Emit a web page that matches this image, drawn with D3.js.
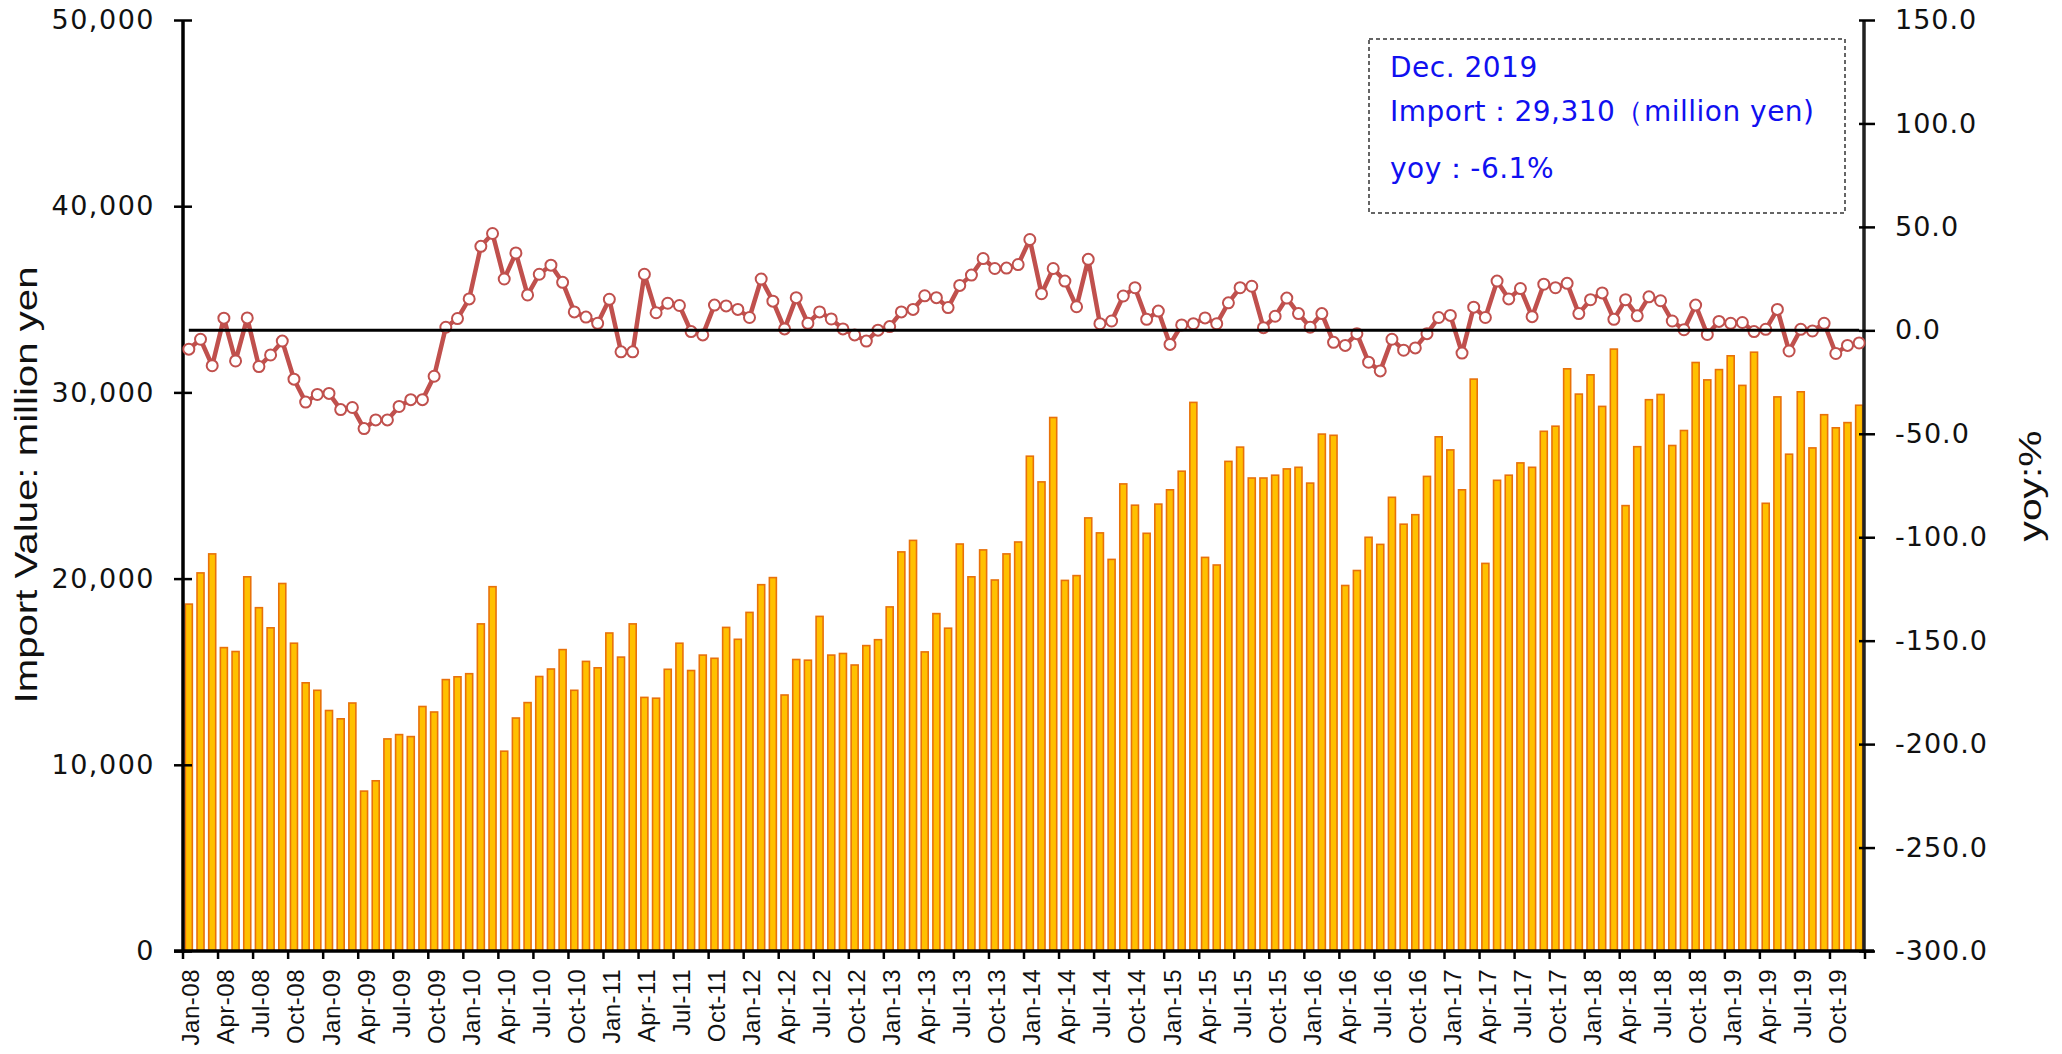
<!DOCTYPE html>
<html>
<head>
<meta charset="utf-8">
<script src="https://cdn.jsdelivr.net/npm/d3@7"></script>
<style>
    body { margin: 0; background: #fff; }
    svg { display: block; }
</style>
</head>
<body>
<div id="chart"></div>
<script>
// month / year names used to build the category labels
const months = ["Jan", "Feb", "Mar", "Apr", "May", "Jun", "Jul", "Aug", "Sep", "Oct", "Nov", "Dec"];
const years = ["08", "09", "10", "11", "12", "13", "14", "15", "16", "17", "18", "19"];

// monthly import value (million yen), Jan-08 .. Dec-19
const importValues = [
    18630, 20306, 21327, 16294, 16084, 20096, 18438, 17357, 19737, 16530, 14404, 14001,
    12916, 12470, 13319, 8587, 9141, 11391, 11622, 11515, 13131, 12836, 14576, 14726,
    14893, 17568, 19565, 10731, 12513, 13341, 14742, 15145, 16187, 14001, 15553, 15210,
    17079, 15784, 17568, 13620, 13577, 15129, 16530, 15064, 15892, 15720, 17379, 16740,
    18185, 19673, 20054, 13749, 15655, 15618, 17970, 15892, 15978, 15360, 16402, 16719,
    18480, 21434, 22052, 16063, 18120, 17336, 21858, 20096, 21541, 19925, 21327, 21966,
    26574, 25194, 28652, 19903, 20161, 23260, 22455, 21031, 25086, 23942, 22433, 24001,
    24769, 25768, 29463, 21139, 20731, 26295, 27062, 25403, 25403, 25553, 25892, 25977,
    25129, 27761, 27696, 19630, 20435, 22218, 21837, 24366, 22922, 23432, 25489, 27615,
    26912, 24769, 30715, 20816, 25279, 25553, 26214, 25977, 27911, 28185, 31267, 29909,
    30945, 29248, 32326, 23920, 27084, 29608, 29888, 27148, 27954, 31606, 30672, 31225,
    31966, 30376, 32159, 24044, 29759, 26681, 30032, 27019, 28802, 28099, 28378, 29310
];

// year-on-year change (%)
const yoyValues = [
    -9.1, -4.3, -17.1, 5.9, -14.8, 6.0, -17.5, -11.9, -5.2, -23.6, -34.7, -31.0,
    -30.5, -38.3, -37.3, -47.5, -43.3, -43.3, -36.8, -33.5, -33.5, -22.2, 1.5, 5.7,
    15.2, 40.6, 46.8, 24.8, 37.4, 17.1, 27.1, 31.5, 23.2, 8.9, 6.4, 3.4,
    15.0, -10.4, -10.4, 27.1, 8.5, 13.1, 12.0, -0.6, -2.2, 12.2, 11.8, 10.1,
    6.2, 24.8, 14.1, 0.7, 15.8, 3.4, 8.9, 5.5, 0.7, -2.2, -5.2, 0.1,
    1.8, 8.9, 10.1, 16.7, 15.8, 11.0, 21.7, 26.7, 34.7, 29.9, 30.1, 31.8,
    43.9, 17.7, 29.9, 23.8, 11.4, 34.3, 3.2, 4.5, 16.6, 20.6, 5.3, 9.3,
    -6.8, 2.6, 3.2, 6.0, 3.2, 13.3, 20.6, 21.3, 1.3, 6.8, 15.6, 8.1,
    1.5, 8.1, -5.8, -7.3, -1.6, -15.4, -19.6, -4.3, -9.6, -8.5, -1.6, 6.2,
    7.2, -11.0, 11.2, 6.2, 23.8, 15.2, 20.2, 6.6, 22.3, 20.6, 22.7, 8.1,
    14.8, 18.1, 5.3, 14.8, 7.0, 16.2, 14.3, 4.5, 0.3, 12.2, -2.0, 4.3,
    3.4, 3.8, -0.6, 0.5, 10.1, -10.0, 0.5, -0.3, 3.4, -11.2, -7.3, -6.1
];

const leftTicks = [0, 10000, 20000, 30000, 40000, 50000];
const rightTicks = [-300, -250, -200, -150, -100, -50, 0, 50, 100, 150];
const legendLines = ["Dec. 2019", "Import：29,310（million yen)", "yoy：-6.1%"];

const categories = [];
years.forEach(function (y) {
    months.forEach(function (m) { categories.push(m + "-" + y); });
});

// SVG CONVENTIONS
const W = 2062, H = 1054;
const plotLeft = 183, plotRight = 1865, plotTop = 20, plotBottom = 951;

const svg = d3.select("#chart").append("svg")
    .attr("width", W)
    .attr("height", H);

const x = d3.scaleBand()
    .domain(categories)
    .range([plotLeft, plotRight])
    .paddingInner(0.4)
    .paddingOuter(0.2);

const yL = d3.scaleLinear().domain([0, 50000]).range([plotBottom, plotTop]);
const yR = d3.scaleLinear().domain([-300, 150]).range([plotBottom, plotTop]);

const cx = function (c) { return x(c) + x.bandwidth() / 2; };

// bars
svg.append("g")
    .selectAll("rect")
    .data(importValues)
    .enter()
    .append("rect")
    .attr("x", function (d, i) { return x(categories[i]); })
    .attr("y", function (d) { return yL(d); })
    .attr("width", x.bandwidth())
    .attr("height", function (d) { return yL(0) - yL(d); })
    .attr("fill", "#FFC000")
    .attr("stroke", "#E8710A")
    .attr("stroke-width", 1.6);

// left axis
const axL = svg.append("g")
    .attr("transform", "translate(" + plotLeft + ",0)")
    .call(d3.axisLeft(yL).tickValues(leftTicks).tickFormat(d3.format(",")).tickSize(9).tickSizeOuter(0).tickPadding(19));
axL.select(".domain").attr("stroke-width", 3.5).attr("d", "M0," + plotTop + "V" + (plotBottom + 2));
axL.selectAll(".tick line").attr("x1", 9).attr("x2", -9).attr("stroke-width", 2.5);
axL.selectAll(".tick text")
    .style("font-family", "DejaVu Sans")
    .style("font-size", "27px")
    .style("letter-spacing", "1.5px")
    .attr("fill", "#111");

// right axis
const axR = svg.append("g")
    .attr("transform", "translate(" + (plotRight - 1) + ",0)")
    .call(d3.axisRight(yR).tickValues(rightTicks).tickFormat(function (d) { return d.toFixed(1); }).tickSize(11).tickSizeOuter(0).tickPadding(20));
axR.select(".domain").attr("stroke-width", 3.5).attr("stroke", "#222").attr("d", "M0," + plotTop + "V" + (plotBottom + 2));
axR.selectAll(".tick line").attr("x1", -5).attr("x2", 11).attr("stroke-width", 2.5);
axR.selectAll(".tick text")
    .style("font-family", "DejaVu Sans")
    .style("font-size", "27px")
    .style("letter-spacing", "1px")
    .attr("fill", "#111");

// x axis: line, ticks on quarter boundaries, labels on quarter months
const xg = svg.append("g");
xg.append("line")
    .attr("x1", plotLeft - 9).attr("x2", plotRight + 9)
    .attr("y1", plotBottom).attr("y2", plotBottom)
    .attr("stroke", "#000").attr("stroke-width", 3.5);
xg.selectAll(".xtick")
    .data(d3.range(0, categories.length + 1, 3))
    .enter()
    .append("line")
    .attr("class", "xtick")
    .attr("x1", function (k) { return x.range()[0] + k * x.step(); })
    .attr("x2", function (k) { return x.range()[0] + k * x.step(); })
    .attr("y1", plotBottom).attr("y2", plotBottom + 8)
    .attr("stroke", "#000").attr("stroke-width", 2.5);
xg.selectAll(".xlab")
    .data(categories.filter(function (c, i) { return i % 3 === 0; }))
    .enter()
    .append("text")
    .attr("class", "xlab")
    .attr("transform", function (c) { return "translate(" + (cx(c) + 2) + "," + (plotBottom + 18) + ")rotate(-90)"; })
    .attr("text-anchor", "end")
    .attr("dominant-baseline", "central")
    .style("font-family", "Liberation Sans")
    .style("font-size", "24px")
    .style("letter-spacing", "0.5px")
    .attr("fill", "#111")
    .text(function (c) { return c; });

// yoy line
svg.append("path")
    .datum(yoyValues)
    .attr("fill", "none")
    .attr("stroke", "#C0504D")
    .attr("stroke-width", 4.5)
    .attr("stroke-linejoin", "round")
    .attr("d", d3.line()
        .x(function (d, i) { return cx(categories[i]); })
        .y(function (d) { return yR(d); }));

svg.append("g")
    .selectAll("circle")
    .data(yoyValues)
    .enter()
    .append("circle")
    .attr("cx", function (d, i) { return cx(categories[i]); })
    .attr("cy", function (d) { return yR(d); })
    .attr("r", 5.5)
    .attr("fill", "#fff")
    .attr("stroke", "#C0504D")
    .attr("stroke-width", 2);

// zero line across the categories
svg.append("path")
    .datum([categories[0], categories[categories.length - 1]])
    .attr("stroke", "#000")
    .attr("stroke-width", 3)
    .attr("d", d3.line().x(function (c) { return cx(c); }).y(yR(0)));

// axis titles
svg.append("text")
    .attr("transform", "translate(26,485)rotate(-90)")
    .attr("text-anchor", "middle")
    .attr("dominant-baseline", "central")
    .attr("textLength", 437)
    .attr("lengthAdjust", "spacingAndGlyphs")
    .style("font-family", "Liberation Sans")
    .style("font-size", "31px")
    .attr("fill", "#111")
    .text("Import Value: million yen");

svg.append("text")
    .attr("transform", "translate(2030,486)rotate(-90)")
    .attr("text-anchor", "middle")
    .attr("dominant-baseline", "central")
    .attr("textLength", 111)
    .attr("lengthAdjust", "spacingAndGlyphs")
    .style("font-family", "Liberation Sans")
    .style("font-size", "31px")
    .attr("fill", "#111")
    .text("yoy:%");

// note box
svg.append("rect")
    .attr("x", 1369).attr("y", 39)
    .attr("width", 476).attr("height", 174)
    .attr("fill", "#fff")
    .attr("stroke", "#333")
    .attr("stroke-width", 1.5)
    .attr("stroke-dasharray", "4,3");

svg.append("g")
    .selectAll("text")
    .data(legendLines)
    .enter()
    .append("text")
    .attr("x", 1390)
    .attr("y", function (d, i) { return [77, 121, 178][i]; })
    .style("font-family", "DejaVu Sans")
    .style("font-size", "28px")
    .style("letter-spacing", "0.5px")
    .attr("fill", "#1010F0")
    .text(function (d) { return d; });
</script>
</body>
</html>
